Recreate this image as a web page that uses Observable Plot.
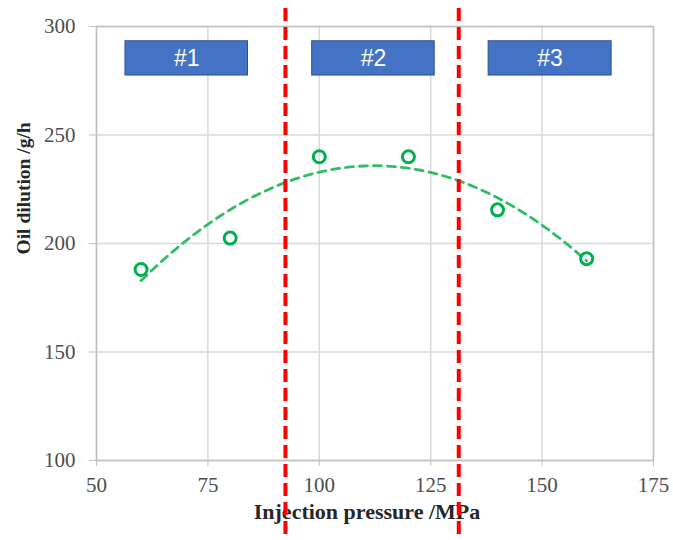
<!DOCTYPE html>
<html>
<head>
<meta charset="utf-8">
<script src="https://cdn.jsdelivr.net/npm/d3@7"></script>
<script src="https://cdn.jsdelivr.net/npm/@observablehq/plot@0.6"></script>
<style>
  html, body { margin: 0; padding: 0; background: #ffffff; }
  #chart svg { display: block; }
</style>
</head>
<body>
<div id="chart"></div>
<script>
// Measured oil dilution at each injection pressure
const pressure = [60, 80, 100, 120, 140, 160];
const dilution = [188, 202.5, 240, 240, 215.5, 193];

// Operating zones and their pressure spans (MPa) / dilution band (g/h)
const zoneLabels = ["#1", "#2", "#3"];
const zoneStart = [56.5, 98.4, 138.0];
const zoneEnd = [84.0, 125.9, 165.6];
const zoneLow = [277.4, 277.4, 277.4];
const zoneHigh = [293.2, 293.2, 293.2];

// Pressures separating the zones
const boundaries = [92.4, 131.3];

// Axis ticks
const xTicks = [50, 75, 100, 125, 150, 175];
const yTicks = [100, 150, 200, 250, 300];

const points = pressure.map((p, i) => ({p, d: dilution[i]}));

// Second-order polynomial trendline (least squares) over the measured points
function quadFit(xs, ys) {
  const S = k => d3.sum(xs, x => x ** k);
  const T = k => d3.sum(xs, (x, i) => x ** k * ys[i]);
  const A = [[S(0), S(1), S(2)], [S(1), S(2), S(3)], [S(2), S(3), S(4)]];
  const b = [T(0), T(1), T(2)];
  // Gaussian elimination
  for (let c = 0; c < 3; c++) {
    for (let r = c + 1; r < 3; r++) {
      const f = A[r][c] / A[c][c];
      for (let k = c; k < 3; k++) A[r][k] -= f * A[c][k];
      b[r] -= f * b[c];
    }
  }
  const coef = [0, 0, 0];
  for (let r = 2; r >= 0; r--) {
    let s = b[r];
    for (let k = r + 1; k < 3; k++) s -= A[r][k] * coef[k];
    coef[r] = s / A[r][r];
  }
  return x => coef[0] + coef[1] * x + coef[2] * x * x;
}
const trend = quadFit(pressure, dilution);
const trendPts = d3.range(d3.min(pressure), d3.max(pressure) + 0.01, 1).map(p => ({p, d: trend(p)}));

const zones = zoneLabels.map((label, i) => ({
  label, x1: zoneStart[i], x2: zoneEnd[i], y1: zoneLow[i], y2: zoneHigh[i]
}));

const serif = "'Liberation Serif', 'Times New Roman', serif";
const sans = "'Liberation Sans', Arial, sans-serif";

const chart = Plot.plot({
  width: 673,
  height: 540,
  marginLeft: 96,
  marginRight: 20,
  marginTop: 26,
  marginBottom: 80,
  style: {background: "transparent"},
  x: {domain: [50, 175], ticks: xTicks},
  y: {domain: [100, 300], ticks: yTicks},
  marks: [
    Plot.gridX(xTicks, {stroke: "#d9d9d9", strokeOpacity: 1, strokeWidth: 1.5}),
    Plot.gridY(yTicks, {stroke: "#d9d9d9", strokeOpacity: 1, strokeWidth: 1.5}),
    Plot.ruleX([175], {stroke: "#bfbfbf", strokeWidth: 1.5}),
    Plot.ruleY([300], {stroke: "#bfbfbf", strokeWidth: 1.5}),
    Plot.ruleX([50], {stroke: "#bfbfbf", strokeWidth: 1.5}),
    Plot.ruleY([100], {stroke: "#bfbfbf", strokeWidth: 1.5}),
    Plot.axisX(xTicks, {
      tickSize: 6, tickPadding: 11, stroke: "#bfbfbf", fill: "#4d4d4d",
      fontSize: 21, fontFamily: serif, label: null
    }),
    Plot.axisY(yTicks, {
      tickSize: 7, tickPadding: 14, stroke: "#bfbfbf", fill: "#4d4d4d",
      fontSize: 21, fontFamily: serif, label: null
    }),
    Plot.text(["Injection pressure /MPa"], {
      frameAnchor: "bottom", dy: 58, dx: -8, fontSize: 22, fontWeight: "bold",
      fontFamily: serif, fill: "#262626"
    }),
    Plot.text(["Oil dilution /g/h"], {
      frameAnchor: "left", dx: -73, dy: 11, rotate: -90, fontSize: 19.5, fontWeight: "bold",
      fontFamily: serif, fill: "#262626"
    }),
    Plot.rect(zones, {
      x1: "x1", x2: "x2", y1: "y1", y2: "y2",
      fill: "#4472c4", stroke: "#2f528f", strokeWidth: 1
    }),
    Plot.text(zones, {
      x: d => (d.x1 + d.x2) / 2, y: d => (d.y1 + d.y2) / 2, text: "label",
      fill: "white", fontSize: 23, fontFamily: sans
    }),
    Plot.line(trendPts, {
      x: "p", y: "d", stroke: "#33bb66", strokeWidth: 2.8, strokeDasharray: "8,6"
    }),
    Plot.dot(points, {
      x: "p", y: "d", r: 6, stroke: "#00b050", strokeWidth: 3, fill: "none"
    }),
    Plot.ruleX(boundaries, {
      y1: 308.3, y2: 62, stroke: "#ff0000", strokeWidth: 4, strokeDasharray: "13,6"
    })
  ]
});

document.getElementById("chart").append(chart);
</script>
</body>
</html>
